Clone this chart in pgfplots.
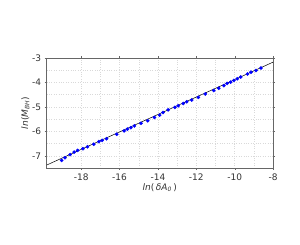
\documentclass[border=0pt]{standalone}
\usepackage{pgfplots}
\pgfplotsset{compat=1.18}
\usepackage{fontspec}
\setmainfont{DejaVu Sans}
\begin{document}
\begin{tikzpicture}
\useasboundingbox (-46.7pt,-77pt) rectangle (253.3pt,168pt);
\begin{axis}[
  scale only axis, width=226.3pt, height=110pt,
  xmin=-19.8, xmax=-8, ymin=-7.5, ymax=-3,
  xtick={-18,-16,-14,-12,-10,-8}, ytick={-7,-6,-5,-4,-3},
  minor x tick num=1, minor y tick num=1,
  grid=both,
  major grid style={dotted, gray!30},
  minor grid style={dotted, gray!30},
  axis line style={gray!80!black, line width=0.6pt},
  tick style={gray!80!black},
  minor tick length=0pt,
  major tick length=2pt,
  tick align=outside,
  ticklabel style={font=\fontsize{9}{10}\selectfont, text=black!80},
  /pgf/number format/assume math mode=true,
  xlabel={\textit{ln}(\,\textit{δA}\textsubscript{\textit{0}}\,)},
  ylabel={\textit{ln}(\textit{M}\textsubscript{\textit{BH}})},
  label style={font=\fontsize{9}{10}\selectfont, text=black!80},
  xlabel style={yshift=4pt},
  ylabel style={yshift=-4pt},
]
\addplot[black, line width=0.5pt] coordinates {(-19.8,-7.38) (-8,-3.17)};
\addplot[only marks, mark=*, mark size=1.6pt, color=blue, mark options={fill=blue}] coordinates {
(-19.02,-7.19) (-18.85,-7.08) (-18.58,-6.95) (-18.37,-6.85) (-18.19,-6.78)
(-17.91,-6.71) (-17.67,-6.63) (-17.35,-6.53) (-17.08,-6.42) (-16.91,-6.37)
(-16.68,-6.30) (-16.15,-6.12) (-15.76,-5.98) (-15.59,-5.91) (-15.41,-5.85)
(-15.23,-5.78) (-14.88,-5.67) (-14.53,-5.57) (-14.18,-5.43) (-13.91,-5.34)
(-13.74,-5.23) (-13.47,-5.12) (-13.12,-5.02) (-12.94,-4.95) (-12.68,-4.86)
(-12.50,-4.79) (-12.24,-4.72) (-11.89,-4.61) (-11.53,-4.47) (-11.09,-4.33)
(-10.83,-4.24) (-10.56,-4.13) (-10.39,-4.04) (-10.21,-3.99) (-10.04,-3.92)
(-9.86,-3.85) (-9.68,-3.78) (-9.33,-3.65) (-9.15,-3.58) (-8.89,-3.51)
(-8.63,-3.41)
};
\end{axis}
\end{tikzpicture}
\end{document}
